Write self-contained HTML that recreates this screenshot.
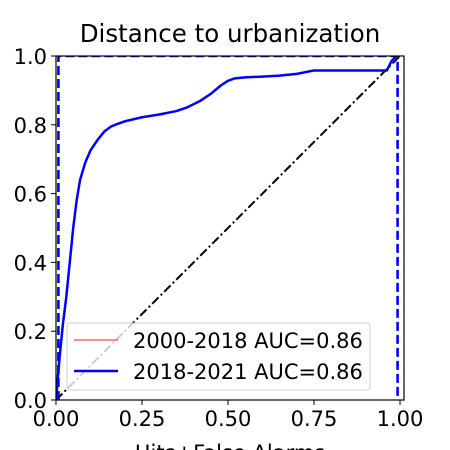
<!DOCTYPE html>
<html><head><meta charset="utf-8"><style>body{margin:0;background:#fff}svg{display:block;font-family:"DejaVu Sans","Liberation Sans",sans-serif}</style></head>
<body>
<svg width="450" height="450">
<text x="230" y="42" style="font-size:24.5px" text-anchor="middle">Distance to urbanization</text>
<defs><clipPath id="c"><rect x="56" y="56" width="348" height="344"/></clipPath></defs>
<g id="plot" clip-path="url(#c)"></g>
<rect x="56" y="56" width="348" height="344" fill="none" stroke="#000" stroke-width="1.2"/>
<g id="axes"></g>
<g>
<rect x="67" y="323" width="303" height="67" rx="3" fill="#fff" fill-opacity="0.8" stroke="#ccc"/>
<line x1="74" y1="340" x2="118" y2="340" stroke="#ff2020" stroke-width="1"/>
<text x="133" y="348" style="font-size:21px">2000-2018 AUC=0.86</text>
<line x1="74" y1="371" x2="118" y2="371" stroke="#0000ff" stroke-width="2.4"/>
<text x="133" y="379" style="font-size:21px">2018-2021 AUC=0.86</text>
</g>
<text x="230" y="460" style="font-size:21px" text-anchor="middle">Hits+False Alarms</text>
</svg>
<script>
const fpr = [0,0.01,0.02,0.03,0.04,0.05,0.06,0.07,0.085,0.1,0.12,0.14,0.16,0.18,0.2,0.25,0.3,0.35,0.38,0.42,0.45,0.48,0.5,0.52,0.55,0.6,0.65,0.7,0.75,0.8,0.9,0.962,0.975,0.99,1.0];
const tpr = [0,0.12,0.22,0.3,0.4,0.5,0.58,0.64,0.69,0.725,0.755,0.78,0.795,0.803,0.81,0.822,0.83,0.84,0.85,0.87,0.89,0.915,0.928,0.935,0.938,0.94,0.943,0.948,0.958,0.958,0.958,0.958,0.985,1.0,1.0];
const boxX = [0.007,0.007,0.993,0.993];
const boxY = [0,1,1,0];
const ticks = [0,0.25,0.5,0.75,1.0];
const tickLabels = ["0.00","0.25","0.50","0.75","1.00"];
const yTicks = [0,0.2,0.4,0.6,0.8,1.0];
const yTickLabels = ["0.0","0.2","0.4","0.6","0.8","1.0"];
const sx = v => 56 + v*344;
const sy = v => 400 - v*344;
const NS = "http://www.w3.org/2000/svg";
const plot = document.getElementById('plot'), axes = document.getElementById('axes');
function pl(xs, ys, stroke, w, dash, name){
  const p = document.createElementNS(NS,'polyline');
  p.setAttribute('points', xs.map((x,i)=>sx(x)+','+sy(ys[i])).join(' '));
  p.setAttribute('fill','none'); p.setAttribute('stroke',stroke); p.setAttribute('stroke-width',w);
  p.setAttribute('stroke-linejoin','round');
  if(dash) p.setAttribute('stroke-dasharray',dash);
  
  
  plot.appendChild(p);
}
pl([0,1],[0,1],'#000',2,'9,3,2,3','chance-line');
pl(boxX,boxY,'#0000ff',2.6,'9,4','perfect-classifier-line');
pl(fpr,tpr,'#ff2020',1,null,'roc-curve-2000-2018');
pl(fpr,tpr,'#0000ff',2.5,null,'roc-curve-2018-2021');
ticks.forEach((t,i)=>{
  const l=document.createElementNS(NS,'line');
  l.setAttribute('x1',sx(t));l.setAttribute('x2',sx(t));l.setAttribute('y1',400);l.setAttribute('y2',405);l.setAttribute('stroke','#000');
  
  
  axes.appendChild(l);
  const tx=document.createElementNS(NS,'text');
  tx.setAttribute('x',sx(t));tx.setAttribute('y',426);tx.setAttribute('style','font-size:21px');tx.setAttribute('text-anchor','middle');
  tx.textContent=tickLabels[i];
  
  
  axes.appendChild(tx);
});
yTicks.forEach((t,i)=>{
  const l=document.createElementNS(NS,'line');
  l.setAttribute('x1',51);l.setAttribute('x2',56);l.setAttribute('y1',sy(t));l.setAttribute('y2',sy(t));l.setAttribute('stroke','#000');
  
  
  axes.appendChild(l);
  const tx=document.createElementNS(NS,'text');
  tx.setAttribute('x',47);tx.setAttribute('y',sy(t)+8);tx.setAttribute('style','font-size:21px');tx.setAttribute('text-anchor','end');
  tx.textContent=yTickLabels[i];
  
  
  axes.appendChild(tx);
});
</script>
</body></html>
